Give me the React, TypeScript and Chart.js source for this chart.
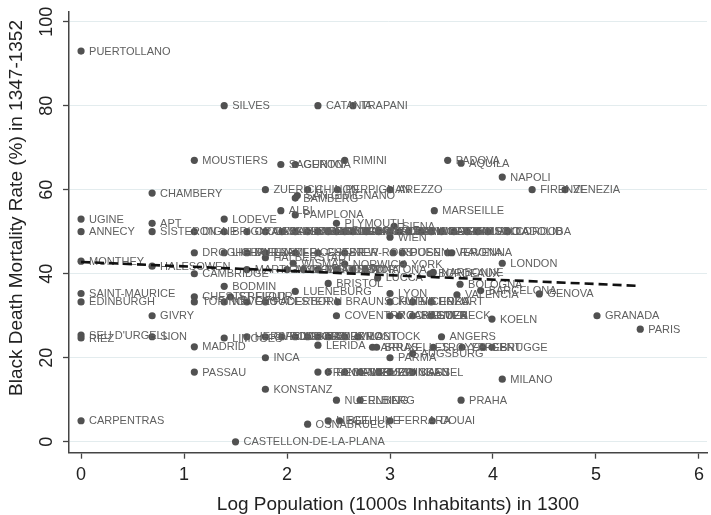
import React, { useEffect, useRef } from "react";
import Chart from "chart.js/auto";

// ---- data ----
const cities: string[] = [
  "PUERTOLLANO",
  "SILVES", "CATANIA", "TRAPANI",
  "MOUSTIERS", "RIMINI", "PADOVA", "SAGUNTO", "GERONA", "AQUILA",
  "NAPOLI",
  "CHAMBERY", "ZUERICH", "CHINON", "PERPIGNAN", "AREZZO", "FIRENZE", "VENEZIA",
  "BAMBERG", "SAN GIMIGNANO",
  "ALBI", "MARSEILLE", "PAMPLONA", "UGINE", "LODEVE", "APT", "PLYMOUTH", "SIENA", "WIEN",
  "ANNECY", "SISTERON", "DIGNE", "BRIGNOLES", "ORANGE", "CAVAILLON", "CARCASSONNE", "BEZIERS",
  "NIMES", "ALBENGA", "SAVONA", "PISTOIA", "LUCERNE", "BERN", "ORVIETO", "PERUGIA", "BRESCIA",
  "CREMONA", "PAVIA", "PIACENZA", "MODENA", "REGGIO", "TREVISO", "TOLEDO", "MURCIA", "VALLADOLID",
  "CORDOBA",
  "DROGHEDA", "LICHFIELD", "DURHAM", "EXETER", "LEICESTER", "CHESTER", "NEW-ROSS", "ROUEN", "POSEN",
  "VERONA", "RAVENNA",
  "HALBERSTADT", "WISMAR", "NORWICH", "YORK", "LONDON", "MONTHEY", "HALESOWEN",
  "MARTIGNY", "MUEHLHAUSEN", "MONS", "MANTOVA", "CORTONA", "ASTI", "TORTONA",
  "LUCCA", "BORDEAUX", "NARBONNE", "CAMBRIDGE", "BODMIN",
  "BRISTOL", "LUENEBURG", "LYON", "BOLOGNA", "BARCELONA", "VALENCIA", "GENOVA",
  "SAINT-MAURICE", "EDINBURGH", "CHESTERFIELD", "ST-FLOUR",
  "TORINO", "NEVERS", "GLOUCESTER", "PADERBORN", "BRAUNSCHWEIG", "KUTNA HORA", "VICENZA", "ERFURT",
  "COVENTRY", "ROCHESTER", "ZARAGOZA", "BREMEN", "LUEBECK", "GIVRY", "KOELN", "GRANADA", "PARIS",
  "SEU D'URGELL", "RIEZ", "SION", "LIMOGES", "HERSFELD", "OVIEDO", "BOURGES", "HEXHAM", "GERA",
  "RODEZ", "CLERMONT", "AVILA", "ROSTOCK", "ANGERS",
  "LERIDA", "MADRID",
  "ARRAS", "BRUXELLES", "TROYES", "YPRES", "GENT", "BRUGGE",
  "PARMA", "AUGSBURG", "INCA", "PASSAU",
  "FRANKFURT", "REGENSBURG", "MAINZ", "SPEYER", "ESSLINGEN", "ZWICKAU", "KASSEL",
  "KONSTANZ", "MILANO", "NUERNBERG", "ELBING", "PRAHA",
  "OSNABRUECK", "LIEGE", "BETHUNE", "FERRARA", "DOUAI", "CARPENTRAS", "CASTELLON-DE-LA-PLANA",
];

const logPop: number[] = [
  0,
  1.39, 2.30, 2.64,
  1.10, 2.56, 3.56, 1.94, 2.08, 3.69,
  4.09,
  0.69, 1.79, 2.20, 2.49, 3.0, 4.38, 4.70,
  2.08, 2.10,
  1.94, 3.43, 2.08, 0, 1.39, 0.69, 2.48, 3.04, 3.0,
  0, 0.69, 1.10, 1.39, 1.61, 1.79, 1.95, 2.08,
  2.20, 2.30, 2.40, 2.48, 2.56, 2.64, 2.77, 2.89, 3.0,
  3.09, 3.18, 3.30, 3.40, 3.50, 3.62, 3.75, 3.85, 3.95,
  4.14,
  1.10, 1.39, 1.61, 1.79, 2.08, 2.30, 2.56, 3.03, 3.12,
  3.56, 3.60,
  1.79, 2.06, 2.56, 3.13, 4.09, 0, 0.69,
  1.61, 2.00, 2.16, 2.30, 2.48, 2.64, 2.76,
  2.88, 3.39, 3.42, 1.10, 1.39,
  2.40, 2.08, 3.0, 3.68, 3.88, 3.65, 4.45,
  0, 0, 1.10, 1.45,
  1.10, 1.39, 1.61, 1.79, 2.49, 3.0, 3.22, 3.40,
  2.48, 3.0, 3.09, 3.22, 3.40, 0.69, 3.99, 5.01, 5.43,
  0, 0, 0.69, 1.39, 1.61, 1.79, 1.95, 2.08, 2.20,
  2.30, 2.40, 2.56, 2.69, 3.50,
  2.30, 1.10,
  2.83, 2.87, 3.42, 3.70, 3.90, 3.99,
  3.0, 3.22, 1.79, 1.10,
  2.30, 2.40, 2.56, 2.71, 2.89, 3.0, 3.22,
  1.79, 4.09, 2.48, 2.71, 3.69,
  2.20, 2.40, 2.51, 3.0, 3.41, 0, 1.50,
];

const mortality: number[] = [
  93,
  80, 80, 80,
  67, 67, 67, 66, 66, 66.3,
  63,
  59.2, 60, 60, 60, 60, 60, 60,
  58, 58.6,
  55, 55, 54, 53, 53, 52, 52, 51.3, 48.7,
  50, 50, 50, 50, 50, 50, 50, 50,
  50, 50, 50, 50, 50, 50, 50, 50, 50,
  50, 50, 50, 50, 50, 50, 50, 50, 50,
  50,
  45, 45, 45, 45, 45, 45, 45, 45, 45,
  45, 45,
  43.8, 42.5, 42.3, 42.3, 42.5, 43, 41.8,
  41, 41, 41, 41, 41, 41, 41,
  39, 40, 40.3, 40, 37,
  37.7, 35.8, 35.3, 37.5, 36, 35, 35.2,
  35.3, 33.3, 34.5, 34.5,
  33.3, 33.3, 33.3, 33.3, 33.3, 33.3, 33.3, 33.3,
  30, 30, 30, 30, 30, 30, 29.2, 30, 26.8,
  25.4, 24.7, 25, 24.7, 25, 25, 25, 25, 25,
  25, 25, 25, 25, 25,
  23, 22.6,
  22.5, 22.5, 22.5, 22.5, 22.5, 22.5,
  20, 21, 20, 16.6,
  16.6, 16.6, 16.6, 16.6, 16.6, 16.6, 16.6,
  12.5, 14.9, 9.9, 9.9, 9.9,
  4.2, 5, 5, 5, 5, 5, 0,
];

// fitted line endpoints (log population, mortality)
const fitX: number[] = [0, 5.43];
const fitY: number[] = [42.8, 37.1];

const xTicks: number[] = [0, 1, 2, 3, 4, 5, 6];
const yTicks: number[] = [0, 20, 40, 60, 80, 100];
const xTitle = "Log Population (1000s Inhabitants) in 1300";
const yTitle = "Black Death Mortality Rate (%) in 1347-1352";

const FONT = "'Liberation Sans', Arial, sans-serif";

const textPlugin = {
  id: "textPlugin",
  afterDatasetDraw(chart: any, args: any) {
    if (args.index !== 0) return;
    const ctx = chart.ctx;
    const meta = chart.getDatasetMeta(0);
    ctx.save();
    ctx.font = `11px ${FONT}`;
    ctx.fillStyle = "#606060";
    ctx.textBaseline = "middle";
    ctx.textAlign = "left";
    meta.data.forEach((el: any, i: number) => {
      ctx.fillText(cities[i], el.x + 8, el.y + 0.5);
    });
    ctx.restore();
  },
  afterDraw(chart: any) {
    const { ctx, scales } = chart;
    const xs = scales.x;
    const ys = scales.y;
    ctx.save();
    ctx.fillStyle = "#222";
    ctx.textAlign = "center";
    ctx.textBaseline = "middle";
    ctx.font = `18px ${FONT}`;
    xTicks.forEach((v) => ctx.fillText(String(v), xs.getPixelForValue(v), 475));
    yTicks.forEach((v) => {
      ctx.save();
      ctx.translate(47, ys.getPixelForValue(v));
      ctx.rotate(-Math.PI / 2);
      ctx.fillText(String(v), 0, 0);
      ctx.restore();
    });
    ctx.font = `19px ${FONT}`;
    ctx.fillText(xTitle, 398, 505);
    ctx.save();
    ctx.translate(17, 208);
    ctx.rotate(-Math.PI / 2);
    ctx.fillText(yTitle, 0, 0);
    ctx.restore();
    ctx.restore();
  },
};

export default function App() {
  const ref = useRef<HTMLCanvasElement | null>(null);
  useEffect(() => {
    if (!ref.current) return;
    const chart = new Chart(ref.current, {
      type: "scatter",
      data: {
        datasets: [
          {
            data: logPop.map((x, i) => ({ x, y: mortality[i] })),
            pointRadius: 3.6,
            pointBackgroundColor: "#515151",
            pointBorderWidth: 0,
            pointHoverRadius: 3.6,
            order: 1,
          } as any,
          {
            data: fitX.map((x, i) => ({ x, y: fitY[i] })),
            showLine: true,
            borderColor: "#111",
            borderWidth: 2.6,
            borderDash: [9, 5],
            pointRadius: 0,
            fill: false,
            order: 0,
          } as any,
        ],
      },
      options: {
        animation: false,
        responsive: false,
        events: [],
        layout: { padding: { top: 12, right: 4, left: 0, bottom: 0 } },
        plugins: { legend: { display: false }, tooltip: { enabled: false } },
        scales: {
          x: {
            type: "linear",
            min: -0.117,
            max: 6.078,
            afterBuildTicks: (s: any) => {
              s.ticks = xTicks.map((v) => ({ value: v }));
            },
            afterFit: (s: any) => {
              s.height = 62.3;
            },
            ticks: { display: false },
            grid: {
              drawOnChartArea: false,
              drawTicks: true,
              tickLength: 6,
              tickColor: "#444",
              tickWidth: 1.3,
            },
            border: { display: true, color: "#444", width: 1.5 },
          },
          y: {
            type: "linear",
            min: -2.6,
            max: 102.3,
            afterBuildTicks: (s: any) => {
              s.ticks = yTicks.map((v) => ({ value: v }));
            },
            afterFit: (s: any) => {
              s.width = 69;
            },
            ticks: { display: false },
            grid: {
              color: "#e3ecee",
              lineWidth: 1,
              drawTicks: true,
              tickLength: 6,
              tickColor: "#444",
              tickWidth: 1.3,
            },
            border: { display: true, color: "#444", width: 1.5 },
          },
        },
      } as any,
      plugins: [textPlugin],
    });
    return () => chart.destroy();
  }, []);
  return (
    <div style={{ position: "fixed", left: 0, top: 0, width: 711, height: 515, background: "#fff" }}>
      <canvas ref={ref} width={711} height={515} style={{ display: "block" }} />
    </div>
  );
}
